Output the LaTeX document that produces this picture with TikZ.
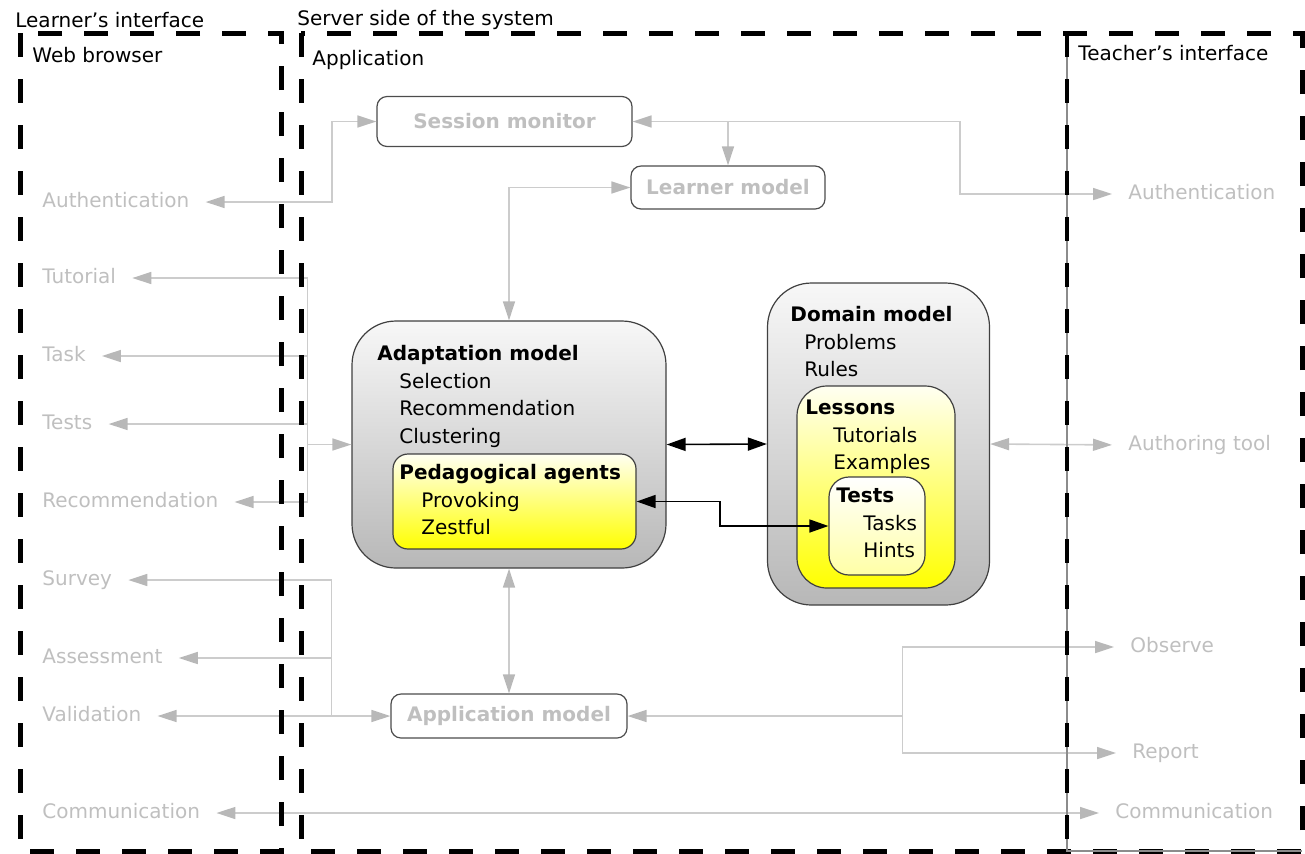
\documentclass[tikz,border=0pt]{standalone}
\usepackage{fontspec}
\setmainfont{DejaVu Sans}
\usetikzlibrary{arrows.meta,calc,positioning}

\begin{document}
\begin{tikzpicture}[x=0.5pt,y=-0.5pt,
	  every node/.style={font=\fontsize{10}{13.75}\selectfont},
	  frame/.style={draw=black,line width=2.5pt,dash pattern=on 12pt off 11pt},
	  heading/.style={anchor=west,inner sep=0pt,text=black},
	  io/.style={anchor=west,inner sep=0pt,text=black!25,text height=7.5pt,text depth=2pt},
	  module/.style={draw=black!70,line width=0.6pt,rounded corners=5pt,text=black!25,font=\fontsize{10}{12}\selectfont\bfseries},
	  model/.style={draw=black!75,line width=0.6pt,rounded corners=22pt,top color=black!3,bottom color=black!28},
	  part/.style={draw=black!75,line width=0.6pt,rounded corners=8pt,top color=yellow!5,bottom color=yellow},
	  items/.style={anchor=north west,inner sep=0pt,align=left},
	  flow/.style={draw=black!20,line width=0.8pt,>={Triangle[length=9.5pt,width=6pt,color=black!28]}},
	  link/.style={draw=black,line width=0.8pt,>={Triangle[length=9.5pt,width=6.5pt]}}]

	  % headings of the three sides
	  \node[heading] (learnerside) at (15,20) {Learner's interface};
	  \node[heading] (serverside) at (297,20) {Server side of the system};
	  \node[heading] (browser) at (32,55) {Web browser};
	  \node[heading] (application) at (312,60) {Application};
	  \node[heading] (teacherside) at (1078,53) {Teacher's interface};

	  % learner's side
	  \node[io] (authL) at (42,202) {Authentication};
	  \node[io] (tutorial) at (42,278) {Tutorial};
	  \node[io] (task) at (42,356) {Task};
	  \node[io] (testsL) at (42,424) {Tests};
	  \node[io] (recomm) at (42,502) {Recommendation};
	  \node[io] (survey) at (42,580) {Survey};
	  \node[io] (assess) at (42,658) {Assessment};
	  \node[io] (valid) at (42,716) {Validation};
	  \node[io] (commL) at (42,813) {Communication};

	  % teacher's side
	  \node[io] (authR) at (1128,194) {Authentication};
	  \node[io] (author) at (1128,445) {Authoring tool};
	  \node[io] (observe) at (1130,647) {Observe};
	  \node[io] (report) at (1132,753) {Report};
	  \node[io] (commR) at (1115,813) {Communication};

	  % server modules
	  \node[module,minimum width=127.5pt,minimum height=25pt] (monitor) at (504.5,121.5) {Session monitor};
	  \node[module,minimum width=97pt,minimum height=21.5pt] (learner) at (728,187.5) {Learner model};
	  \node[module,minimum width=118pt,minimum height=22pt] (appmodel) at (509,716) {Application model};

	  \node[model,minimum width=157pt,minimum height=123.5pt] (adapt) at (509,444.5) {};
	  \node[part,rounded corners=7.5pt,minimum width=121.5pt,minimum height=47.5pt] (agents) at (514.5,501.5) {};
	  \node[items] (adapt-text) at (377,345) {\textbf{Adaptation model}\\\hspace*{11pt}Selection\\\hspace*{11pt}Recommendation\\\hspace*{11pt}Clustering};
	  \node[items] (agents-text) at (399,464) {\textbf{Pedagogical agents}\\\hspace*{11pt}Provoking\\\hspace*{11pt}Zestful};

	  \node[model,minimum width=111pt,minimum height=161pt] (domain) at (878.5,444) {};
	  \node[part,rounded corners=15pt,minimum width=79pt,minimum height=101pt] (lessons) at (876,487) {};
	  \node[part,rounded corners=10pt,top color=white,bottom color=yellow!35,minimum width=48pt,minimum height=49pt] (tests) at (877,526) {};
	  \node[items] (domain-text) at (790,306) {\textbf{Domain model}\\\hspace*{7pt}Problems\\\hspace*{7pt}Rules};
	  \node[items] (lessons-text) at (805,400) {\textbf{Lessons}\\\hspace*{14pt}Tutorials\\\hspace*{14pt}Examples};
	  \node[items] (tests-text) at (836,488) {\textbf{Tests}\\\hspace*{13.5pt}Tasks\\\hspace*{13.5pt}Hints};

	  % connectors
	  \coordinate (jmon) at (332,160);
	  \coordinate (jteach) at (960,160);
	  \draw[flow,<->,shorten <=8pt] (authL.east) -| (jmon) |- (monitor.west);
	  \draw[flow,<->,shorten >=8pt] (monitor.east) -| (jteach) |- (authR.west);
	  \draw[flow,->] (learner.north |- monitor.east) -- (learner.north);
	  \draw[flow,<->] (adapt.north) |- (learner.west);

	  \coordinate (jadapt) at ([xshift=-22pt]adapt.west);
	  \draw[flow,->] (jadapt) -- (adapt.west);
	  \foreach \n in {tutorial,task,testsL,recomm}
	    \draw[flow,->,shorten >=8pt] (jadapt) |- (\n.east);

	  \coordinate (japp) at ([xshift=-29.5pt]appmodel.west);
	  \draw[flow,->] (japp) -- (appmodel.west);
	  \foreach \n in {survey,assess,valid}
	    \draw[flow,->,shorten >=8pt] (japp) |- (\n.east);
	  \draw[flow,<->] (adapt.south) -- (appmodel.north);

	  \coordinate (jrep) at ([xshift=137.5pt]appmodel.east);
	  \draw[flow,->] (jrep) -- (appmodel.east);
	  \foreach \n in {observe,report}
	    \draw[flow,->,shorten >=8pt] (jrep) |- (\n.west);

	  \draw[flow,<->,shorten >=8pt] (domain.east) -- (author.west);
	  \draw[flow,<->,shorten <=8pt,shorten >=8pt] (commL.east) -- (commR.west);

	  \draw[link,<->] (adapt.east) -- (domain.west);
	  \coordinate (jtests) at (720,514);
	  \draw[link,<->] (agents.east) -| (jtests) |- (tests.west);

	  % dashed frames
	  \draw[frame] (20,33) rectangle (281,851);
	  \draw[frame] (301,33) rectangle (1302,851);
	  \draw[black!45,line width=0.6pt] (1067,35) -- (1067,851) -- (1302,851);
	  \draw[frame,line width=2pt] (1067,33) -- (1067,851);

	  \useasboundingbox (0,0) rectangle (1305,853);
\end{tikzpicture}
\end{document}
